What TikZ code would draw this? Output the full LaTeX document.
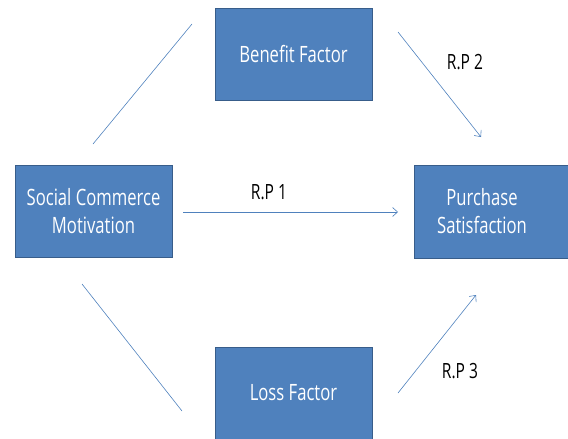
\documentclass[tikz,border=0pt]{standalone}
\usepackage{fontspec}
\usetikzlibrary{arrows.meta}
\setmainfont{Open Sans}[FakeStretch=0.74]
\begin{document}
\begin{tikzpicture}[x=1pt,y=-1pt,
  box/.style={draw=boxedge,line width=1pt,fill=boxfill,text=white,font=\fontsize{22.5}{28}\selectfont,align=center,inner sep=0pt},
  conn/.style={draw=linecol,line width=0.6pt},
  arr/.style={conn,-{Straight Barb[length=5pt,width=9pt,line width=0.6pt]}},
  lbl/.style={font=\fontsize{21}{24}\selectfont,text=black}]
\definecolor{boxfill}{HTML}{4F81BD}
\definecolor{boxedge}{HTML}{385D8A}
\definecolor{linecol}{HTML}{4F81BD}
\useasboundingbox (0,0) rectangle (568,439);
\begin{scope}
\clip (0,0) rectangle (568,439);
\node[box,minimum width=157pt,minimum height=92pt] (scm) at (93.5,211.5) {Social Commerce\\Motivation};
\node[box,minimum width=157pt,minimum height=92pt] (ben) at (293.5,54) {Benefit Factor};
\node[box,minimum width=156pt,minimum height=93pt,anchor=north west] (ps) at (414,165) {};
\node[text=white,font=\fontsize{22.5}{28}\selectfont,align=center] (pstext) at (482,211.5) {Purchase\\Satisfaction};
\node[box,minimum width=157pt,minimum height=100pt,anchor=north west] (loss) at (215,347) {};
\node[text=white,font=\fontsize{22.5}{28}\selectfont] (losstext) at (293.5,393) {Loss Factor};
\end{scope}
\coordinate (a1) at (93,144);
\coordinate (a2) at (192,24);
\coordinate (b1) at (82,284);
\coordinate (b2) at (182,411);
\coordinate (r1s) at (183,212);
\coordinate (r1e) at (398,212);
\coordinate (r2s) at (398,32);
\coordinate (r2e) at (481,137);
\coordinate (r3s) at (398,393);
\coordinate (r3e) at (476,295);
\draw[conn] (a1) -- (a2);
\draw[conn] (b1) -- (b2);
\draw[arr] (r1s) -- (r1e);
\draw[arr] (r2s) -- (r2e);
\draw[arr] (r3s) -- (r3e);
\node[lbl] (l1) at (269,192) {R.P 1};
\node[lbl] (l2) at (465,62) {R.P 2};
\node[lbl] (l3) at (460,371) {R.P 3};
\end{tikzpicture}
\end{document}
